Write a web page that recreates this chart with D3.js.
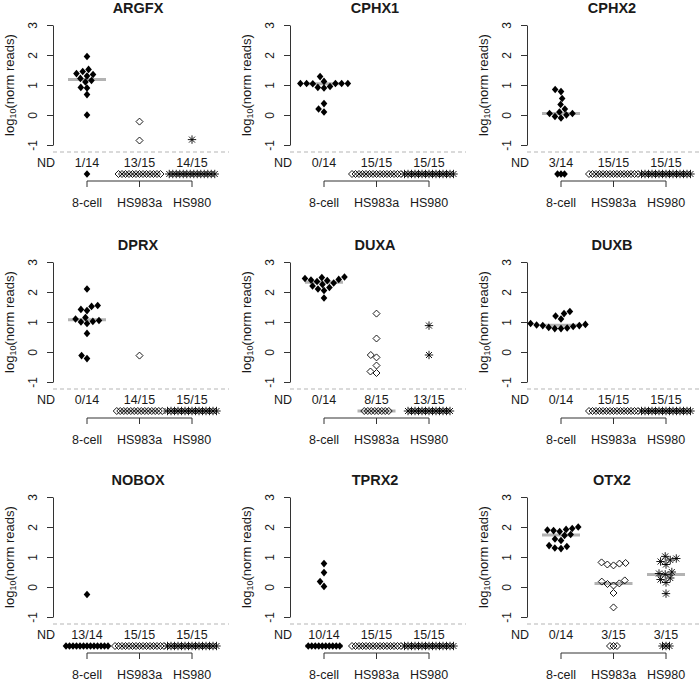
<!DOCTYPE html>
<html><head><meta charset="utf-8">
<script src="https://cdn.jsdelivr.net/npm/d3@7"></script>
<style>
html,body{margin:0;padding:0;background:#fff;}
svg text{font-family:"Liberation Sans",Arial,sans-serif;fill:#1a1a1a;}
</style></head>
<body>
<svg id="chart" width="700" height="682"></svg>
<script>
// ---------- data ----------
const genes = ["ARGFX","CPHX1","CPHX2","DPRX","DUXA","DUXB","NOBOX","TPRX2","OTX2"];
const groups = ["8-cell","HS983a","HS980"];
const groupTotals = [14, 15, 15];
const yTicks = [3, 2, 1, 0, -1];
const yTickLabels = ["3", "2", "1", "0", "-1"];

// detected log10(norm reads) values per group: [8-cell, HS983a, HS980]
const ARGFX = [[1.95,1.52,1.45,1.38,1.35,1.3,1.22,1.15,1.1,0.92,0.9,0.68,0.0],[-0.22,-0.85],[-0.82]];
const CPHX1 = [[1.28,1.12,1.05,1.05,1.05,1.05,1.05,1.04,0.95,0.92,0.9,0.38,0.2,0.1],[],[]];
const CPHX2 = [[0.85,0.78,0.55,0.35,0.2,0.1,0.05,0.05,0.0,-0.05,-0.1],[],[]];
const DPRX  = [[2.1,1.55,1.52,1.42,1.38,1.15,1.1,1.05,1.02,1.0,0.95,0.62,-0.12,-0.22],[-0.12],[]];
const DUXA  = [[2.5,2.48,2.45,2.42,2.4,2.38,2.35,2.3,2.25,2.2,2.15,2.1,2.05,1.8],[1.28,0.45,-0.1,-0.18,-0.45,-0.65,-0.7],[0.88,-0.1]];
const DUXB  = [[1.35,1.28,1.2,1.1,0.95,0.92,0.9,0.88,0.88,0.85,0.82,0.8,0.78,0.78],[],[]];
const NOBOX = [[-0.25],[],[]];
const TPRX2 = [[0.78,0.48,0.18,0.02],[],[]];
const OTX2  = [[2.0,1.95,1.92,1.9,1.88,1.85,1.75,1.72,1.6,1.55,1.38,1.35,1.3,1.28],[0.82,0.8,0.78,0.75,0.72,0.22,0.18,0.12,0.1,0.05,-0.2,-0.68],[1.02,0.95,0.9,0.85,0.75,0.5,0.45,0.42,0.3,0.25,0.15,-0.22]];
const geneData = [ARGFX,CPHX1,CPHX2,DPRX,DUXA,DUXB,NOBOX,TPRX2,OTX2];

// ---------- layout ----------
const svg = d3.select("#chart");
const colOffsets = [0, 237, 474];
const rowOffsets = [0, 237, 472];
const axisX = 53, yTop = 25, yBot = 145, dashY = 152, countY = 162, ndY = 174, brY = 181, grpY = 202;

function median(arr){ // arr sorted ascending, may contain -Infinity for ND
  const n = arr.length, m = Math.floor(n/2);
  return n % 2 ? arr[m] : (arr[m-1] + arr[m]) / 2;
}

function swarm(vals, y, gx, d){
  const pts = vals.map(v => ({v, py: y(v)})).sort((a,b) => b.py - a.py);
  const placed = [];
  pts.forEach(p => {
    const cands = [0];
    placed.forEach(q => {
      const dy = Math.abs(q.py - p.py);
      if (dy < d){ const w = Math.sqrt(d*d - dy*dy); cands.push(q.dx + w, q.dx - w); }
    });
    cands.sort((a,b) => Math.abs(a) - Math.abs(b) || a - b);
    for (const c of cands){
      const ok = placed.every(q => Math.hypot(q.dx - c, q.py - p.py) >= d - 1e-6);
      if (ok){ p.dx = c; break; }
    }
    placed.push(p);
  });
  return placed.map(p => ({v: p.v, x: gx + p.dx, y: p.py}));
}

function drawMarker(g, gi, x, y){
  if (gi === 0){
    g.append("path").attr("d", `M${x},${y-3.8}L${x+3.3},${y}L${x},${y+3.8}L${x-3.3},${y}Z`).attr("fill","#000");
  } else if (gi === 1){
    g.append("path").attr("d", `M${x},${y-3.5}L${x+3.5},${y}L${x},${y+3.5}L${x-3.5},${y}Z`)
      .attr("fill","none").attr("stroke","#000").attr("stroke-width",0.9);
  } else {
    const r = 4.2, s = 3.0;
    g.append("path").attr("d", `M${x-r},${y}L${x+r},${y}M${x},${y-r}L${x},${y+r}M${x-s},${y-s}L${x+s},${y+s}M${x-s},${y+s}L${x+s},${y-s}`)
      .attr("stroke","#000").attr("stroke-width",0.9).attr("fill","none");
  }
}

genes.forEach((gene, i) => {
  const c = i % 3, r = Math.floor(i / 3);
  const g = svg.append("g").attr("transform", `translate(${colOffsets[c]},${rowOffsets[r]})`);
  const y = d3.scaleLinear().domain([-1, 3]).range([yBot, yTop]);
  const x = d3.scaleLinear().domain([1, 3]).range([87, 192]);

  // title
  g.append("text").attr("x", 138).attr("y", 13).attr("text-anchor","middle")
    .style("font-size","14.5px").style("font-weight","bold").text(gene);

  // y axis
  const ax = g.append("g").attr("transform", `translate(${axisX},0)`)
    .call(d3.axisLeft(y).tickValues(yTicks).tickFormat((d,k) => yTickLabels[k]).tickSize(6).tickSizeOuter(0));
  ax.select(".domain").attr("stroke","#333");
  ax.selectAll(".tick line").attr("stroke","#333");
  ax.selectAll(".tick text").attr("transform","rotate(-90)").attr("x",0).attr("y",-16.5).attr("dy",0)
    .attr("text-anchor","middle").style("font-size","12px").attr("fill","#1a1a1a");

  // y label
  const yl = g.append("text").attr("transform", `translate(14,85) rotate(-90)`).attr("text-anchor","middle")
    .style("font-size","13px");
  yl.append("tspan").text("log");
  yl.append("tspan").attr("baseline-shift","-25%").style("font-size","9px").text("10");
  yl.append("tspan").text("(norm reads)");

  // dashed ND separator
  g.append("line").attr("x1", axisX).attr("x2", c === 2 ? 240 : 229).attr("y1", dashY).attr("y2", dashY)
    .attr("stroke","#b5b5b5").attr("stroke-width",1).attr("stroke-dasharray","4,3");

  // ND label
  g.append("text").attr("x", axisX - 7).attr("y", countY).attr("dy","0.36em").attr("text-anchor","middle")
    .style("font-size","12.5px").text("ND");

  // bracket axis
  const bp = d3.path();
  bp.moveTo(x(1), brY + 6); bp.lineTo(x(1), brY); bp.lineTo(x(3), brY); bp.lineTo(x(3), brY + 6);
  bp.moveTo(x(2), brY); bp.lineTo(x(2), brY + 6);
  g.append("path").attr("d", bp.toString()).attr("fill","none").attr("stroke","#333").attr("stroke-width",1);

  groups.forEach((grp, gi) => {
    const gx = x(gi + 1);
    const vals = geneData[i][gi];
    const nd = groupTotals[gi] - vals.length;

    g.append("text").attr("x", gx).attr("y", countY).attr("dy","0.36em").attr("text-anchor","middle")
      .style("font-size","12.5px").text(`${nd}/${groupTotals[gi]}`);
    g.append("text").attr("x", gx).attr("y", grpY).attr("dy","0.36em").attr("text-anchor","middle")
      .style("font-size","12.5px").text(grp);

    // median line (ND counted as lowest)
    const all = d3.range(nd).map(() => -Infinity).concat(vals.slice().sort((a,b) => a - b));
    const med = median(all);
    const my = isFinite(med) ? y(med) : ndY;
    g.append("line").attr("x1", gx - 19).attr("x2", gx + 19).attr("y1", my).attr("y2", my)
      .attr("stroke","#b3b3b3").attr("stroke-width",3);

    // ND markers row
    for (let k = 0; k < nd; k++){
      drawMarker(g, gi, gx + (k - (nd - 1) / 2) * 3.5, ndY);
    }
    // detected values swarm
    swarm(vals, y, gx, 6.2).forEach(p => drawMarker(g, gi, p.x, p.y));
  });
});
</script>
</body></html>
